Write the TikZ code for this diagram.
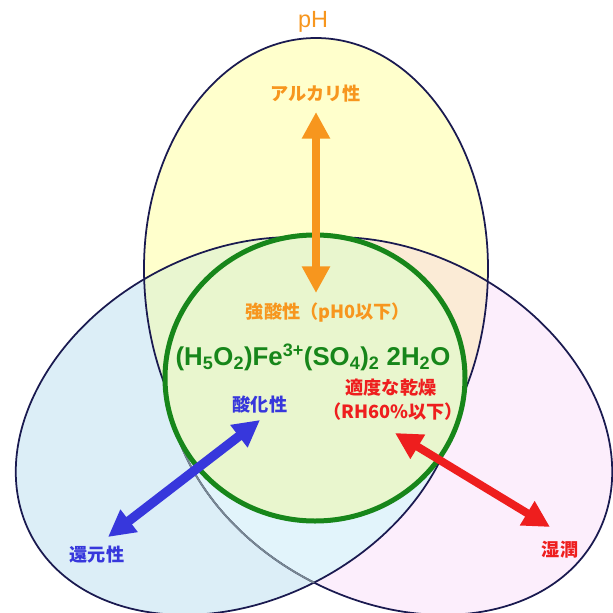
\documentclass[tikz,border=0pt]{standalone}
\usepackage{fontspec}
\setmainfont{Liberation Sans}
\newfontfamily\jp{Noto Sans CJK JP}
\usetikzlibrary{arrows.meta}
\definecolor{YellowFill}{RGB}{255,255,204}
\definecolor{BlueFill}{RGB}{220,238,247}
\definecolor{PinkFill}{RGB}{252,238,252}
\definecolor{BluePink}{RGB}{226,244,251}
\definecolor{YelBlue}{RGB}{233,246,208}
\definecolor{YelPink}{RGB}{251,235,214}
\definecolor{GreenFill}{RGB}{233,246,206}
\definecolor{GreenLine}{RGB}{23,134,26}
\definecolor{Navy}{RGB}{26,26,80}
\definecolor{GrayLine}{RGB}{120,135,145}
\definecolor{PhOrange}{RGB}{247,150,30}
\definecolor{OxBlue}{RGB}{55,55,220}
\definecolor{WetRed}{RGB}{238,30,30}

\begin{document}
\begin{tikzpicture}[x=0.03cm,y=-0.03cm,
    jl/.style={font=\jp\bfseries\fontsize{15.5}{18}\selectfont},
    ar/.style={{Triangle[width=0.8cm,length=0.8cm]}-{Triangle[width=0.8cm,length=0.8cm]},line width=0.24cm},
    rim/.style={draw=Navy,line width=1.5pt},
    bl/.style={rotate around={28:(238,426)}},
    pk/.style={rotate around={-28:(390,426)}}
  ]
  \useasboundingbox (0,0) rectangle (612,613);

  % fills of the three regions
  \fill[BlueFill,bl] (238,426) ellipse[x radius=234,y radius=174];
  \fill[PinkFill,pk] (390,426) ellipse[x radius=234,y radius=174];
  \begin{scope}
    \clip[bl] (238,426) ellipse[x radius=234,y radius=174];
    \fill[BluePink,pk] (390,426) ellipse[x radius=234,y radius=174];
  \end{scope}
  \fill[YellowFill] (488,268) arc[start angle=0,end angle=-180,x radius=172,y radius=230]
    arc[start angle=180,end angle=0,x radius=172,y radius=245] -- cycle;
  \begin{scope}
    \clip (488,268) arc[start angle=0,end angle=-180,x radius=172,y radius=230]
      arc[start angle=180,end angle=0,x radius=172,y radius=245] -- cycle;
    \fill[YelBlue,bl] (238,426) ellipse[x radius=234,y radius=174];
    \fill[YelPink,pk] (390,426) ellipse[x radius=234,y radius=174];
  \end{scope}

  % outlines
  \draw[rim] (488,268) arc[start angle=0,end angle=-180,x radius=172,y radius=230]
    arc[start angle=180,end angle=0,x radius=172,y radius=245] -- cycle;
  \draw[rim,bl] (238,426) ellipse[x radius=234,y radius=174];
  \draw[rim,pk] (390,426) ellipse[x radius=234,y radius=174];
  \begin{scope}
    \clip[bl] (238,426) ellipse[x radius=234,y radius=174];
    \draw[GrayLine,line width=1.5pt,pk] (390,426) ellipse[x radius=234,y radius=174];
  \end{scope}

  % the salt
  \draw[GreenLine,fill=GreenFill,line width=0.15cm] (315,378) ellipse[x radius=150,y radius=143];

  % arrow ends
  \coordinate (o1) at (316,112);
  \coordinate (o2) at (316,293);
  \coordinate (b1) at (260,420);
  \coordinate (b2) at (108,537);
  \coordinate (r1) at (395,433);
  \coordinate (r2) at (550,527);
  \draw[ar,PhOrange] (o1) -- (o2);
  \draw[ar,OxBlue,line width=0.28cm] (b1) -- (b2);
  \draw[ar,WetRed] (r1) -- (r2);

  % labels
  \node(ph) at (313,22) [text=PhOrange,font=\fontsize{20}{22}\selectfont]{pH};
  \node(alk) at (316,94) [jl,text=PhOrange]{アルカリ性};
  \node(acid) at (328,313) [jl,text=PhOrange]{強酸性（pH0以下）};
  \node(salt) at (313,357) [text=GreenLine,font=\bfseries\fontsize{22}{24}\selectfont]
    {(H\textsubscript{5}O\textsubscript{2})Fe\textsuperscript{3+}(SO\textsubscript{4})\textsubscript{2} 2H\textsubscript{2}O};
  \node(dry) at (391,388) [jl,text=WetRed]{適度な乾燥};
  \node(rh) at (393,412) [jl,text=WetRed]{（RH60\%以下）};
  \node(ox) at (260,405) [jl,text=OxBlue]{酸化性};
  \node(rd) at (97,555) [jl,text=OxBlue]{還元性};
  \node(wet) at (560,550) [jl,text=WetRed]{湿潤};
\end{tikzpicture}
\end{document}
